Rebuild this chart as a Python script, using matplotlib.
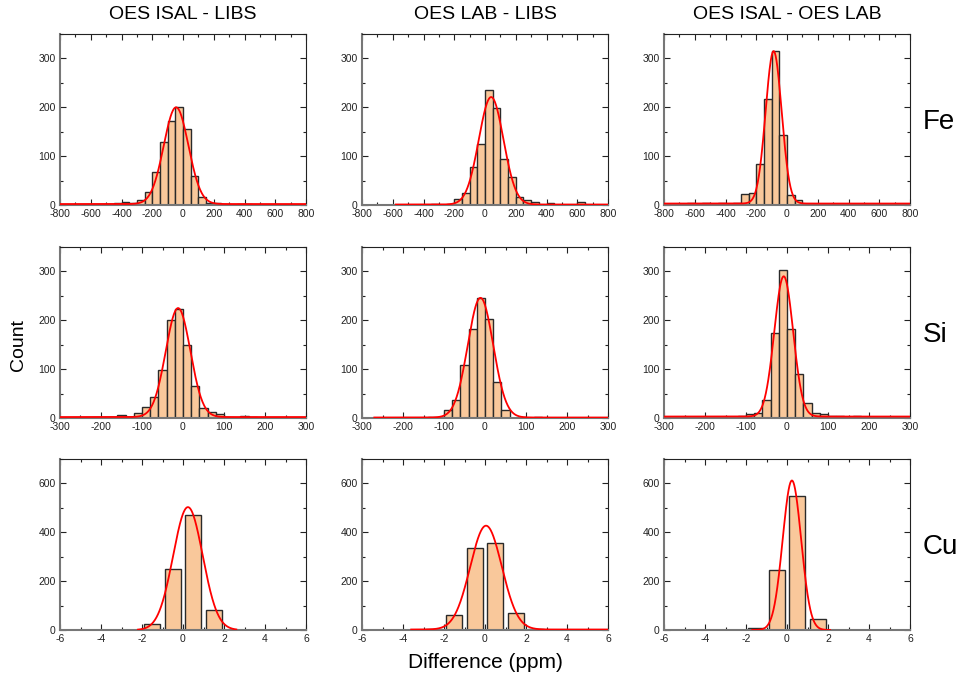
"""Difference histograms (OES / LIBS) for Fe, Si and Cu with Gaussian fits."""

import matplotlib
matplotlib.use("Agg")
import matplotlib.pyplot as plt
import numpy as np
from matplotlib.ticker import MultipleLocator

plt.rcParams["font.family"] = ["Liberation Sans", "DejaVu Sans"]
plt.rcParams["axes.unicode_minus"] = False

COLUMNS = ["OES ISAL - LIBS", "OES LAB - LIBS", "OES ISAL - OES LAB"]
ELEMENTS = ["Fe", "Si", "Cu"]

# bin centres (ppm) and counts, per element and comparison
FE_ISAL_LIBS_X = [-425, -375, -325, -275, -225, -175, -125, -75, -25, 25, 75, 125, 175, 225, 375, 425]
FE_ISAL_LIBS_N = [5, 6, 4, 11, 27, 68, 129, 172, 200, 155, 60, 17, 5, 4, 3, 2]
FE_LAB_LIBS_X = [-325, -225, -175, -125, -75, -25, 25, 75, 125, 175, 225, 275, 325, 425, 625]
FE_LAB_LIBS_N = [2, 3, 12, 25, 78, 124, 236, 199, 95, 57, 17, 10, 7, 5, 6]
FE_ISAL_LAB_X = [-625, -525, -425, -375, -325, -275, -225, -175, -125, -75, -25, 25, 75]
FE_ISAL_LAB_N = [5, 4, 5, 3, 4, 22, 24, 84, 216, 316, 143, 20, 10]

SI_ISAL_LIBS_X = [-170, -150, -110, -90, -70, -50, -30, -10, 10, 30, 50, 70, 90, 150, 170]
SI_ISAL_LIBS_N = [2, 7, 10, 23, 43, 98, 201, 223, 149, 65, 21, 12, 9, 4, 3]
SI_LAB_LIBS_X = [-130, -110, -90, -70, -50, -30, -10, 10, 30, 50, 90, 130]
SI_LAB_LIBS_N = [2, 2, 17, 36, 109, 182, 245, 203, 73, 17, 3, 2]
SI_ISAL_LAB_X = [-110, -90, -70, -50, -30, -10, 10, 30, 50, 70, 90, 110, 130, 170, 250]
SI_ISAL_LAB_N = [4, 8, 10, 36, 174, 303, 183, 90, 30, 10, 8, 4, 4, 5, 2]

CU_ISAL_LIBS_X = [-2.5, -1.5, -0.5, 0.5, 1.5, 2.5]
CU_ISAL_LIBS_N = [2, 25, 250, 470, 82, 2]
CU_LAB_LIBS_X = [-2.5, -1.5, -0.5, 0.5, 1.5, 2.5]
CU_LAB_LIBS_N = [3, 63, 335, 357, 70, 3]
CU_ISAL_LAB_X = [-1.5, -0.5, 0.5, 1.5]
CU_ISAL_LAB_N = [10, 245, 548, 45]

# Gaussian fit parameters: (amplitude, centre, sigma, offset, x from, x to)
FE_FITS = [(198, -45, 80, 2, -800, 800), (220, 40, 80, 1, -580, 800), (312, -87, 52, 3, -800, 800)]
SI_FITS = [(223, -12, 30, 2, -300, 300), (245, -11, 31, 1, -270, 300), (287, -8, 23, 3, -300, 300)]
CU_FITS = [(503, 0.24, 0.72, 0, -2.2, 2.6), (425, 0.05, 0.77, 2, -3.6, 6), (612, 0.24, 0.45, 0, -1.7, 2.1)]

HISTS = [
    [(FE_ISAL_LIBS_X, FE_ISAL_LIBS_N), (FE_LAB_LIBS_X, FE_LAB_LIBS_N), (FE_ISAL_LAB_X, FE_ISAL_LAB_N)],
    [(SI_ISAL_LIBS_X, SI_ISAL_LIBS_N), (SI_LAB_LIBS_X, SI_LAB_LIBS_N), (SI_ISAL_LAB_X, SI_ISAL_LAB_N)],
    [(CU_ISAL_LIBS_X, CU_ISAL_LIBS_N), (CU_LAB_LIBS_X, CU_LAB_LIBS_N), (CU_ISAL_LAB_X, CU_ISAL_LAB_N)],
]
FITS = [FE_FITS, SI_FITS, CU_FITS]

# per row: bar width, x limit, x major/minor, y limit, y major/minor
ROW_AXES = [
    (50, 800, 200, 100, 350, 100, 50),
    (20, 300, 100, 50, 350, 100, 50),
    (0.8, 6, 2, 1, 700, 200, 100),
]

W, H = 964, 681
COL_LEFT = [60, 362, 664]
ROW_TOP = [34, 247, 459]
AX_W, AX_H = 246, 171
BAR_COLOR = "#F9C89B"

fig = plt.figure(figsize=(W / 100, H / 100), dpi=100)

for r in range(3):
    bw, xl, xmaj, xmin, yl, ymaj, ymin = ROW_AXES[r]
    for c in range(3):
        ax = fig.add_axes([COL_LEFT[c] / W, 1 - (ROW_TOP[r] + AX_H) / H, AX_W / W, AX_H / H])
        xs, ns = HISTS[r][c]
        ax.bar(xs, ns, width=bw, color=BAR_COLOR, edgecolor="#2a2a2a", linewidth=1.0, zorder=2)
        amp, mu, sig, y0, x0, x1 = FITS[r][c]
        xx = np.linspace(x0, x1, 600)
        ax.plot(xx, y0 + amp * np.exp(-0.5 * ((xx - mu) / sig) ** 2), color="red", lw=1.3, zorder=3)

        ax.set_xlim(-xl, xl)
        ax.set_ylim(0, yl)
        ax.xaxis.set_major_locator(MultipleLocator(xmaj))
        ax.xaxis.set_minor_locator(MultipleLocator(xmin))
        ax.yaxis.set_major_locator(MultipleLocator(ymaj))
        ax.yaxis.set_minor_locator(MultipleLocator(ymin))
        ax.tick_params(which="both", direction="in", top=True, right=True, labelsize=7.5, pad=3,
                       colors="#222222")
        ax.tick_params(which="major", length=4, width=0.8)
        ax.tick_params(which="minor", length=2.5, width=0.8)
        for side in ("left", "bottom"):
            ax.spines[side].set_color("#777777")
            ax.spines[side].set_linewidth(1.5)
        for side in ("top", "right"):
            ax.spines[side].set_color("#222222")
            ax.spines[side].set_linewidth(0.8)

        if r == 0:
            ax.set_title(COLUMNS[c], fontsize=14, pad=11)
    fig.text(923 / W, 1 - (ROW_TOP[r] + 88) / H, ELEMENTS[r], fontsize=20, va="center", ha="left")

fig.text(18 / W, 1 - 345 / H, "Count", rotation=90, fontsize=14, va="center", ha="center")
fig.text(485 / W, 1 - 663 / H, "Difference (ppm)", fontsize=15, va="center", ha="center")

fig.savefig("out.png", dpi=100)
